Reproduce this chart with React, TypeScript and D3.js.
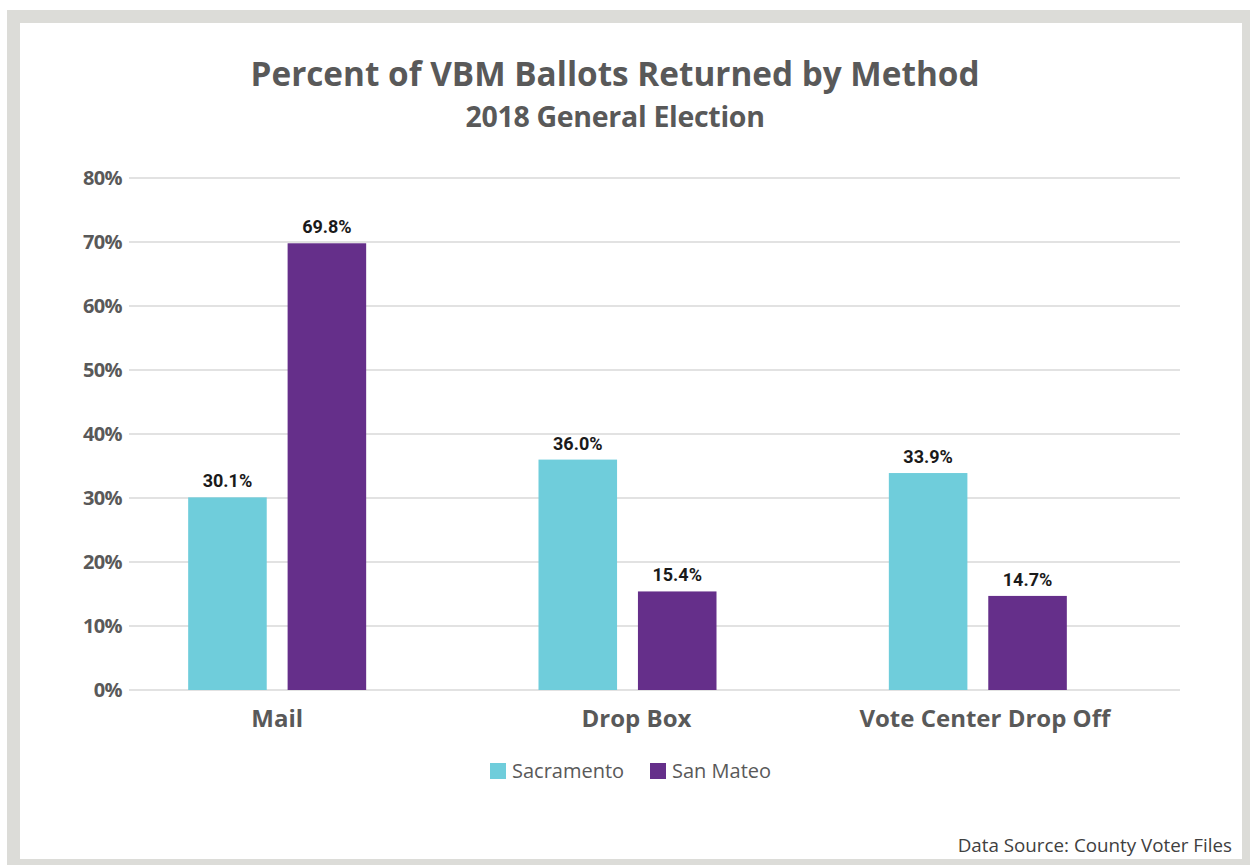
import React from "react";
import * as d3 from "d3";

const categories = ["Mail", "Drop Box", "Vote Center Drop Off"];
const seriesNames = ["Sacramento", "San Mateo"];
const sacramento = [30.1, 36.0, 33.9];
const sanMateo = [69.8, 15.4, 14.7];
const yTicks = [0, 10, 20, 30, 40, 50, 60, 70, 80];
const colors = ["#6fcddb", "#652f8a"];

const W = 1250;
const H = 865;
const FONT = "'Open Sans', 'Noto Sans', sans-serif";
const NARROW = "'Liberation Sans Narrow', 'Roboto', sans-serif";

export default function App() {
  const y = d3.scaleLinear().domain([0, 80]).range([690, 178]);
  const x = d3.scaleBand<string>().domain(categories).range([102, 1153]).paddingInner(0).paddingOuter(0);
  const groupW = 178;
  const xs = d3.scaleBand<string>().domain(seriesNames).range([0, groupW]).paddingInner(0.21);
  const series = [sacramento, sanMateo];

  return (
    <svg width={W} height={H} style={{ position: "absolute", left: 0, top: 0 }}>
      <rect x={7} y={10} width={1243} height={855} fill="#dcdcd8" />
      <rect x={20} y={23} width={1222} height={836} fill="#ffffff" />
      <text x={615} y={86} textAnchor="middle" fontFamily={FONT} fontWeight={700} fontSize={33.3} fill="#595959">
        Percent of VBM Ballots Returned by Method
      </text>
      <text x={615} y={127} textAnchor="middle" fontFamily={FONT} fontWeight={700} fontSize={28.5} fill="#595959" letterSpacing={-0.3}>
        2018 General Election
      </text>
      {yTicks.map((t) => (
        <g key={t}>
          <line x1={129} x2={1180} y1={y(t)} y2={y(t)} stroke="#d9d9d9" strokeWidth={1.5} />
          <text x={122} y={y(t) + 7} textAnchor="end" fontFamily={FONT} fontWeight={700} fontSize={20} fill="#595959" letterSpacing={-0.6}>
            {t}%
          </text>
        </g>
      ))}
      {categories.map((c, i) => {
        const cx = (x(c) as number) + x.bandwidth() / 2;
        const gx = cx - groupW / 2;
        return (
          <g key={c}>
            {series.map((s, j) => {
              const bx = gx + (xs(seriesNames[j]) as number);
              const v = s[i];
              return (
                <g key={j}>
                  <rect x={bx} y={y(v)} width={xs.bandwidth()} height={y(0) - y(v)} fill={colors[j]} />
                  <text x={bx + xs.bandwidth() / 2} y={y(v) - 10} textAnchor="middle" fontFamily={NARROW} fontWeight={700} fontSize={18} fill="#1a1a1a">
                    {v.toFixed(1)}%
                  </text>
                </g>
              );
            })}
            <text x={cx + (i === 0 ? 0 : i === 1 ? 9 : 7)} y={727} textAnchor="middle" fontFamily={FONT} fontWeight={700} fontSize={24} fill="#595959">
              {c}
            </text>
          </g>
        );
      })}
      {seriesNames.map((n, j) => {
        const lx = j === 0 ? 490 : 650;
        return (
          <g key={n}>
            <rect x={lx} y={763} width={16} height={16} fill={colors[j]} />
            <text x={lx + 22} y={778} fontFamily={FONT} fontSize={20} fill="#595959">
              {n}
            </text>
          </g>
        );
      })}
      <text x={1232} y={852} textAnchor="end" fontFamily={FONT} fontSize={18.8} fill="#404040">
        Data Source: County Voter Files
      </text>
    </svg>
  );
}
